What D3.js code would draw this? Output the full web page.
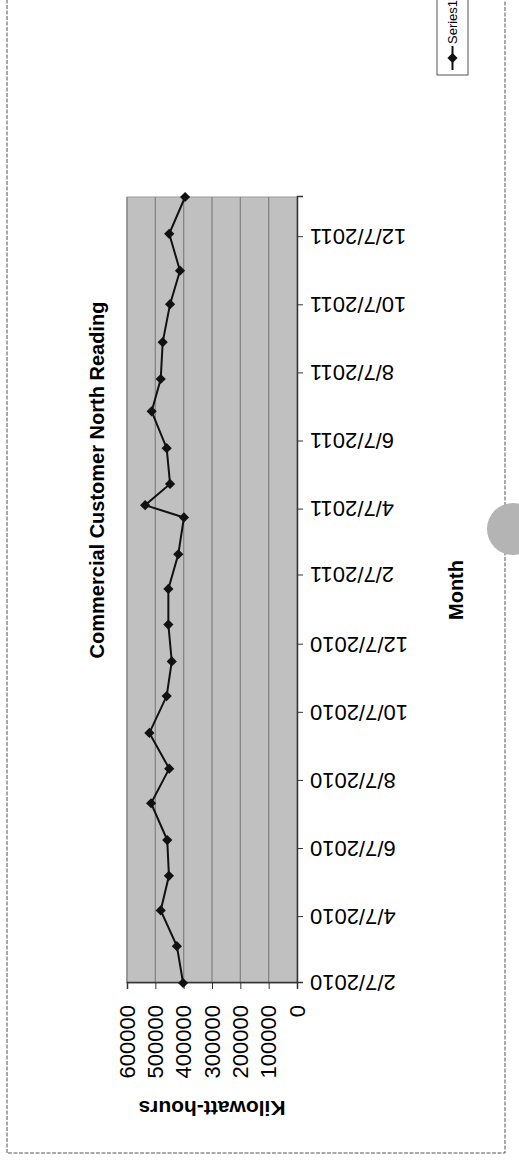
<!DOCTYPE html>
<html>
<head>
<meta charset="utf-8">
<script src="https://cdn.jsdelivr.net/npm/d3@7"></script>
<style>
  body { margin: 0; background: #fff; }
  svg { display: block; }
  text { font-family: "Liberation Sans", Arial, sans-serif; fill: #000; }
</style>
</head>
<body>
<script>
// Meter reading dates and monthly consumption (kWh)
const readingDates = [
  "2010-02-07", "2010-03-12", "2010-04-13", "2010-05-14", "2010-06-15", "2010-07-18",
  "2010-08-18", "2010-09-19", "2010-10-22", "2010-11-22", "2010-12-25", "2011-01-26",
  "2011-02-26", "2011-03-31", "2011-04-11", "2011-04-30", "2011-06-01", "2011-07-04",
  "2011-08-02", "2011-09-04", "2011-10-08", "2011-11-07", "2011-12-10", "2012-01-12"
];
const kilowattHours = [
  402000, 424000, 481000, 452000, 458000, 515000,
  451000, 521000, 460000, 442000, 454000, 454000,
  419000, 399000, 536000, 448000, 460000, 513000,
  481000, 474000, 448000, 413000, 451000, 395000
];
// Axis ticks
const monthTicks = [
  "2010-02-07", "2010-04-07", "2010-06-07", "2010-08-07", "2010-10-07", "2010-12-07",
  "2011-02-07", "2011-04-07", "2011-06-07", "2011-08-07", "2011-10-07", "2011-12-07"
];
const valueTicks = [0, 100000, 200000, 300000, 400000, 500000, 600000];
const seriesName = "Series1";

const W = 519, H = 1162;
const parse = d3.timeParse("%Y-%m-%d");
const data = readingDates.map((d, i) => ({ date: parse(d), v: kilowattHours[i] }));

const svg = d3.select("body").append("svg").attr("width", W).attr("height", H);

// The chart is laid out landscape (H wide, W tall) and turned a quarter turn.
const g = svg.append("g").attr("transform", `translate(0,${H}) rotate(-90)`);

// chart area frame
g.append("rect")
  .attr("x", 9).attr("y", 7).attr("width", H + 20).attr("height", 498)
  .attr("fill", "none").attr("stroke", "#555").attr("stroke-width", 1)
  .attr("stroke-dasharray", "4,1.5");

const plot = { left: 179, right: 965, top: 127, bottom: 297 };

const x = d3.scaleTime()
  .domain(d3.extent(data, d => d.date))
  .range([plot.left, plot.right]);
const y = d3.scaleLinear()
  .domain([0, 600000])
  .range([plot.bottom, plot.top]);

// plot area
g.append("rect")
  .attr("x", plot.left).attr("y", plot.top)
  .attr("width", plot.right - plot.left).attr("height", plot.bottom - plot.top)
  .attr("fill", "#c0c0c0").attr("stroke", "#9a9a9a").attr("stroke-width", 1);

// horizontal gridlines
g.append("g").selectAll("line")
  .data(valueTicks.filter(v => v > 0))
  .join("line")
  .attr("x1", plot.left).attr("x2", plot.right)
  .attr("y1", d => y(d)).attr("y2", d => y(d))
  .attr("stroke", "#858585").attr("stroke-width", 1.3);

// value axis
const yAxis = g.append("g")
  .attr("transform", `translate(${plot.left},0)`)
  .call(d3.axisLeft(y).tickValues(valueTicks).tickFormat(d3.format("d")).tickSize(6).tickPadding(16));
yAxis.select(".domain").attr("stroke", "#333").attr("stroke-width", 1.5);
yAxis.selectAll(".tick line").attr("stroke", "#333");
yAxis.selectAll("text").style("font-size", "22px").attr("fill", "#000");

// date axis
const xAxis = g.append("g")
  .attr("transform", `translate(0,${plot.bottom})`)
  .call(d3.axisBottom(x).tickValues(monthTicks.map(parse))
    .tickFormat(d3.timeFormat("%-m/%-d/%Y")).tickSize(6));
xAxis.select(".domain").attr("stroke", "#333").attr("stroke-width", 1.5);
xAxis.selectAll(".tick line").attr("stroke", "#333");
xAxis.selectAll("text")
  .style("font-size", "22px").attr("fill", "#000")
  .attr("transform", "rotate(-90)")
  .attr("text-anchor", "end")
  .attr("x", -13).attr("y", 0).attr("dy", "0.35em");

// series line
g.append("path")
  .datum(data)
  .attr("fill", "none").attr("stroke", "#111").attr("stroke-width", 2)
  .attr("d", d3.line().x(d => x(d.date)).y(d => y(d.v)));

// diamond markers
const diamond = d3.symbol(d3.symbolSquare, 52);
g.append("g").selectAll("path")
  .data(data)
  .join("path")
  .attr("d", diamond)
  .attr("transform", d => `translate(${x(d.date)},${y(d.v)}) rotate(45)`)
  .attr("fill", "#111");

// titles
g.append("text")
  .attr("x", 682).attr("y", 104)
  .attr("text-anchor", "middle")
  .style("font-size", "20px").style("font-weight", "bold")
  .text("Commercial Customer North Reading");

g.append("text")
  .attr("transform", `translate(61,${(plot.top + plot.bottom) / 2}) rotate(-90)`)
  .attr("text-anchor", "middle")
  .style("font-size", "21px").style("font-weight", "bold")
  .text("Kilowatt-hours");

g.append("text")
  .attr("x", (plot.left + plot.right) / 2).attr("y", 463)
  .attr("text-anchor", "middle")
  .style("font-size", "20px").style("font-weight", "bold")
  .text("Month");

// legend
const lg = g.append("g").attr("transform", "translate(1087,437)");
lg.append("rect").attr("x", 0).attr("y", 0).attr("width", 100).attr("height", 31)
  .attr("fill", "#fff").attr("stroke", "#555").attr("stroke-width", 1);
lg.append("line").attr("x1", 5).attr("x2", 29).attr("y1", 15.5).attr("y2", 15.5)
  .attr("stroke", "#111").attr("stroke-width", 2);
lg.append("path").attr("d", diamond).attr("transform", "translate(17,15.5) rotate(45)").attr("fill", "#111");
lg.append("text").attr("x", 31).attr("y", 15.5).attr("dy", "0.35em")
  .style("font-size", "13px").text(seriesName);

// grey round shadow near the right edge of the sheet
svg.append("circle").attr("cx", 513).attr("cy", 529).attr("r", 26).attr("fill", "#b4b4b4");
</script>
</body>
</html>
